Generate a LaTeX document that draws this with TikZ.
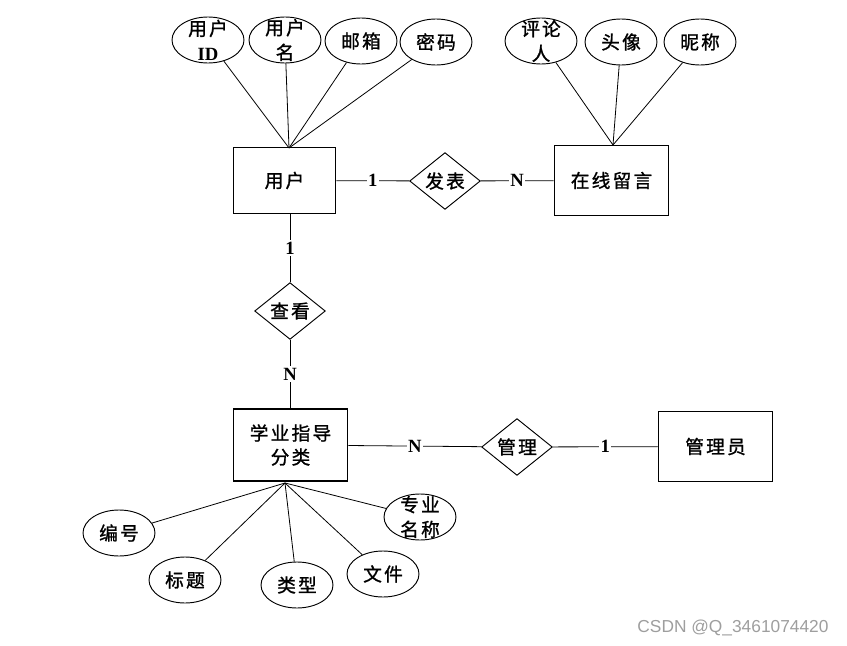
\documentclass[tikz,border=0pt]{standalone}
\usepackage{fontspec}
\setmainfont{Liberation Serif}
\newfontfamily\cjk[FakeBold=1.2,LetterSpace=12]{Noto Sans CJK SC}
\newfontfamily\wmfont{Liberation Sans}
\usetikzlibrary{shapes.geometric}
\tikzset{
  x=0.75pt, y=-0.75pt,
  entity/.style={draw, line width=0.8pt, rectangle, inner sep=0pt, font=\cjk\fontsize{14}{18}\selectfont, align=center},
  rel/.style={draw, line width=0.7pt, diamond, inner sep=0pt, minimum width=53pt, minimum height=39pt, font=\cjk\fontsize{14}{18}\selectfont},
  attr/.style={draw, line width=0.7pt, ellipse, inner sep=0pt, minimum width=54pt, minimum height=34.5pt},
  atext/.style={font=\cjk\fontsize{14}{18.5}\selectfont, align=center, inner sep=0pt},
  conn/.style={line width=0.6pt},
  card/.style={fill=white, inner sep=1.2pt, font=\bfseries\fontsize{14}{16}\selectfont},
}
\begin{document}
\begin{tikzpicture}
\useasboundingbox (0,0) rectangle (847,646);
% entities
\node[entity, minimum width=77pt, minimum height=49pt] (user) at (284.5,180.5) {用户};
\node[entity, minimum width=86pt, minimum height=53pt] (msg) at (611.5,180.5) {在线留言};
\node[entity, minimum width=86pt, minimum height=54pt] (cat) at (290.5,445) {学业指导\\分类};
\node[entity, minimum width=86pt, minimum height=53pt] (admin) at (715.5,446.5) {管理员};
% relations
\node[rel] (pub) at (445,181) {发表};
\node[rel] (view) at (290,311) {查看};
\node[rel] (mng) at (517,447) {管理};
% convergence points
\coordinate (uTop) at (289,148);
\coordinate (mTop) at (613,145);
\coordinate (cBot) at (285,483);
% user attributes
\node[attr, label={[atext]center:{用户\\{\rmfamily\bfseries ID}}}] (uid) at (208,40) {};
\node[attr, label={[atext]center:{用户\\名}}] (uname) at (285,40) {};
\node[attr, label={[atext]center:{邮箱}}] (umail) at (361,41) {};
\node[attr, label={[atext]center:{密码}}] (upwd) at (436,42) {};
% message attributes
\node[attr, label={[atext]center:{评论\\人}}] (mauth) at (541,41) {};
\node[attr, label={[atext]center:{头像}}] (mavatar) at (621,42) {};
\node[attr, label={[atext]center:{昵称}}] (mnick) at (700,42) {};
% category attributes
\node[attr, label={[atext]center:{编号}}] (cno) at (119,533) {};
\node[attr, label={[atext]center:{标题}}] (ctitle) at (185,580) {};
\node[attr, label={[atext]center:{类型}}] (ctype) at (297,585) {};
\node[attr, label={[atext]center:{文件}}] (cfile) at (383,574) {};
\node[attr, label={[atext]center:{专业\\名称}}] (cmajor) at (420,517) {};
% attribute connectors
\foreach \a in {uid,uname,umail,upwd} \draw[conn] (\a) -- (uTop);
\foreach \a in {mauth,mavatar,mnick} \draw[conn] (\a) -- (mTop);
\foreach \a in {cno,ctitle,ctype,cfile,cmajor} \draw[conn] (\a) -- (cBot);
% relationship connectors
\draw[conn] (user) -- node[card] (c1) {1} (pub);
\draw[conn] (pub) -- node[card] (c2) {N} (msg);
\draw[conn] (user.south -| view) -- node[card] (c3) {1} (view);
\draw[conn] (view) -- node[card] (c4) {N} (cat.north -| view);
\draw[conn] (cat) -- node[card] (c5) {N} (mng);
\draw[conn] (mng) -- node[card] (c6) {1} (admin);
% watermark
\node[font=\wmfont\fontsize{13}{15}\selectfont, text=black!38, inner sep=0pt] (wm) at (733,628) {CSDN @Q\_3461074420};
\end{tikzpicture}
\end{document}
